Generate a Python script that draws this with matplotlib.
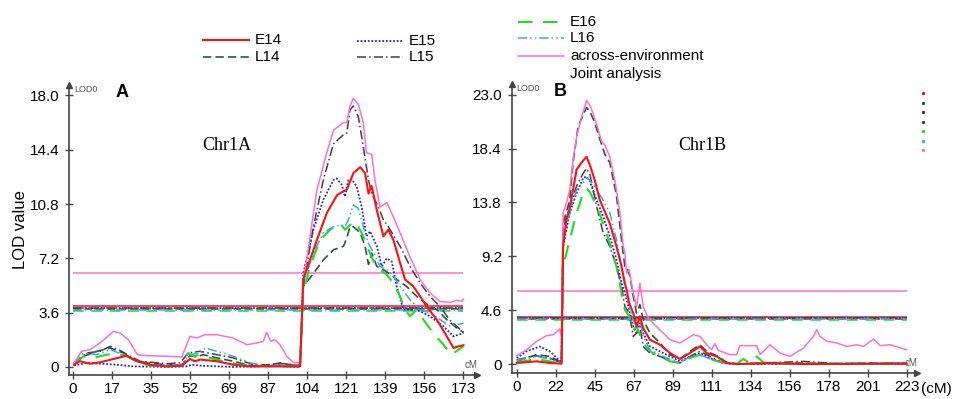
import matplotlib
matplotlib.use("Agg")
import matplotlib.pyplot as plt
from matplotlib.lines import Line2D
import numpy as np

# series names / styles
names = ["E14", "L14", "E15", "L15", "E16", "L16", "across-environment"]
colors = ["#ff1010", "#2a5545", "#2020ee", "#4a3a4a", "#22dd22", "#3aa8dd", "#ff70c8"]
styles = ["-", (0, (5, 2.5)), (0, (1, 1)), (0, (6, 2, 1, 2)), (0, (7, 5)), (0, (6, 2, 1, 2, 1, 2)), "-"]
widths = [1.5, 1.2, 1.3, 1.1, 1.5, 1.1, 1.1]

# Chr1A curves: (cM, LOD)
a_e14 = [(0.4, .15), (3, .38), (7.5, .22), (12, .31), (17.9, .53), (23.8, .75), (28.2, .38), (34.1, .15), (41.5, .04),
         (48.2, .09), (51.8, .53), (54, .38), (56.3, .49), (63.7, .38), (71, .15), (78.4, .04), (100.6, .04),
         (102, 5.8), (108, 8.4), (112.4, 10.2), (117, 11.4), (119.8, 11.65), (121.3, 11.75), (124.2, 12.85),
         (127.2, 13.25), (129.4, 12.85), (130.9, 11.5), (132.3, 12.0), (134.6, 10.4), (137.5, 8.66), (139.7, 9.1),
         (142, 8.4), (144.9, 6.9), (147.1, 5.8), (150.8, 5.34), (153.8, 4.68), (156.7, 4.0), (161.2, 3.14),
         (165.6, 2.03), (168.6, 1.26), (170.8, 1.37), (173, 1.44)]
a_l14 = [(0.4, .22), (4.6, .71), (10.5, 1.04), (16.4, 1.26), (22.3, .93), (26.7, .49), (32.6, .27), (41.5, .15),
         (48.2, .15), (51.8, .75), (54.8, .66), (57.7, .82), (63.7, .6), (71, .38), (78.4, .1), (85.8, .1),
         (91.7, .27), (96.2, .15), (100.6, .1), (102, 5.34), (106.5, 6.2), (110.9, 7.1), (115.4, 7.77),
         (119.8, 8.0), (121.3, 8.55), (122.7, 9.3), (124.2, 9.3), (127.2, 8.9), (129.4, 8.0), (130.9, 6.8),
         (132.3, 7.55), (134.6, 6.67), (137.5, 6.45), (139.7, 6.23), (143.4, 5.8), (147.8, 5.34), (152.3, 4.68),
         (155.2, 4.35), (158.2, 4.0), (161.2, 3.8), (165.6, 3.14), (170, 2.58), (173, 2.3)]
a_e15 = [(0.4, .1), (6, .27), (12, .22), (19.3, .15), (26.7, .04), (41.5, 0), (50.4, .04), (52.6, .15), (56.3, .09),
         (71, 0), (82.9, .04), (85.8, .15), (93.2, .04), (100.6, 0), (102, 6.2), (106.5, 9.1), (110.9, 11.1),
         (115.4, 12.4), (116.8, 12.5), (119, 12.1), (120.5, 11.3), (122, 12.4), (123.5, 12.45), (125.7, 11.95),
         (127.9, 10.6), (130, 8.66), (131.6, 9.0), (134.6, 8.0), (136.8, 6.67), (139, 7.2), (141.2, 7.0),
         (143.4, 5.34), (146.4, 3.8), (149.3, 3.8), (153.8, 3.7), (158.2, 3.36), (164.1, 2.7), (168.6, 2.03),
         (173, 2.25)]
a_l15 = [(0.4, .27), (6, .93), (12, 1.04), (16.4, 1.37), (20.8, 1.1), (25.3, .71), (29.7, .38), (41.5, .22),
         (47.4, .27), (51, .93), (56.3, 1.04), (63.7, .82), (71, .6), (80, .15), (85.8, .15), (93.2, .22),
         (100.6, .1), (102, 5.3), (106.5, 9.3), (110.9, 12.4), (115.4, 14.8), (119.8, 15.4), (121.3, 15.5),
         (122.7, 17.05), (124.2, 17.3), (126.4, 16.6), (128.6, 14.6), (130.9, 12.4), (132.3, 11.5), (135.3, 10.6),
         (137.5, 9.76), (139.7, 9.3), (144.9, 8.0), (149.3, 6.67), (153.8, 5.56), (158.2, 4.68), (162.6, 4.0),
         (167, 3.1), (171.5, 2.5), (173, 2.25)]
a_e16 = [(0.4, .15), (4.6, .71), (9, .6), (14.9, .82), (19.3, .88), (23.8, .71), (28.2, .38), (34.1, .1), (41.5, .04),
         (48.2, .09), (51, .93), (53.3, .71), (56.3, .82), (60.7, .6), (66.6, .38), (74, .15), (85.8, .04),
         (100.6, .04), (102, 4.9), (105, 6.67), (109.4, 8.4), (113.9, 9.1), (118.3, 9.54), (120.5, 9.1),
         (122, 9.3), (124.2, 9.65), (126.4, 9.3), (128.6, 8.66), (130.9, 7.77), (133.2, 7.0), (136, 6.45),
         (139, 6.12), (142, 5.56), (144.9, 4.68), (147.1, 3.8), (149.3, 3.36), (152.3, 3.8), (155.2, 3.14),
         (159.6, 2.25), (164.1, 1.48), (167.8, .82), (170.8, 1.15), (173, 1.37)]
a_l16 = [(0.4, .22), (4.6, .93), (10.5, .82), (16.4, 1.15), (22.3, .82), (26.7, .49), (34.1, .15), (48.2, .15),
         (51.8, .82), (56.3, .93), (58.5, 1.26), (63.7, 1.04), (71, .71), (78.4, .27), (85.8, .09), (100.6, .09),
         (102, 5.56), (106.5, 7.55), (110.9, 8.9), (115.4, 9.3), (118.3, 9.4), (120.5, 9.3), (122, 9.76),
         (124.2, 10.75), (126.4, 10.5), (128.6, 9.3), (130.9, 8.2), (133.2, 7.55), (136, 6.67), (139, 6.45),
         (142, 6.0), (144.9, 5.34), (149.3, 4.46), (153.8, 3.8), (158.2, 3.58), (162.6, 3.14), (167, 2.7),
         (173, 2.9)]
a_joint = [(0.4, .27), (3.8, 1.04), (7.5, 1.15), (12, 1.6), (17.9, 2.36), (20.8, 2.25), (24.5, 1.8), (28.5, .82),
           (32.6, .75), (41.5, .71), (48.2, .66), (51.8, 2.03), (54.8, 1.92), (58.5, 2.14), (63.7, 2.14),
           (71, 1.92), (77, 1.48), (81.4, 1.59), (84.3, 1.7), (85.8, 2.3), (87.6, 1.7), (89.5, 1.81), (91.7, 1.48),
           (94.7, .71), (97.6, .31), (100.6, .27), (102, 5.8), (103.5, 7.1), (108, 11.7), (112.4, 14.2),
           (115.4, 15.7), (119.8, 16.2), (121.3, 16.2), (122.7, 17.3), (124.2, 17.8), (126.4, 17.4), (128.6, 16.2),
           (130, 14.2), (132.3, 14.1), (133.8, 12.4), (136, 10.6), (139, 10.9), (141.2, 10.2), (144.9, 8.9),
           (149.3, 7.3), (153.8, 5.8), (158.2, 4.9), (162.6, 4.35), (167, 4.28), (170, 4.42), (172.2, 4.35),
           (173, 4.5)]

# Chr1B curves
b_e14 = [(0, .09), (11.3, .23), (18.9, .09), (25.6, .03), (26.5, 10.05), (28.4, 12.3), (30.3, 13.3), (34.2, 16.6),
         (37, 17.2), (39.9, 17.7), (41.8, 17.0), (44.6, 15.7), (47.5, 14.0), (50.4, 13.0), (53.2, 12.0), (57, 10.05),
         (59.9, 8.34), (61.8, 6.9), (62.8, 6.35), (64.3, 5.2), (66.6, 4.36), (68.5, 3.2), (70.4, 4.07), (72.3, 3.07),
         (76.1, 2.08), (81.9, 1.65), (87.6, .94), (93.3, .43), (99, .94), (104.7, 1.5), (108.6, .94), (114.3, .65),
         (120, .09), (125.7, 0), (144.8, .09), (163.9, 0), (223, .03)]
b_l14 = [(0, .23), (11.3, .8), (18.9, .65), (25.6, .14), (26.5, 12.0), (30.3, 14.0), (32.2, 17.2), (35.1, 20.3),
         (38, 21.3), (39.9, 21.9), (41.8, 21.6), (44.6, 20.6), (47.5, 19.2), (50.4, 17.9), (53.2, 17.2), (57, 14.4),
         (59.9, 10.6), (61.8, 8.34), (62.8, 8.34), (64.7, 7.5), (66.6, 5.78), (68.5, 4.36), (70.4, 5.07),
         (72.3, 3.79), (76.1, 2.65), (81.9, 1.8), (87.6, .8), (93.3, .43), (99, 1.08), (104.7, 1.65), (108.6, 1.08),
         (114.3, .71), (120, .14), (125.7, .03), (144.8, .03), (163.9, .09), (183, .03), (202, .09), (223, .03)]
b_e15 = [(0, .51), (5.5, 1.08), (13.2, 1.5), (18.9, 1.08), (25.6, .14), (26.5, 10.05), (30.3, 12.9), (34.2, 14.6),
         (38, 15.9), (39.9, 16.0), (41.8, 15.6), (45.6, 14.0), (49.4, 12.6), (53.2, 10.9), (57, 8.9), (59.9, 6.9),
         (61.8, 6.06), (64.3, 4.64), (66.6, 3.22), (68.5, 2.65), (70.4, 3.5), (72.3, 2.65), (76.1, 1.5), (81.9, 1.08),
         (87.6, .65), (93.3, .23), (99, .65), (104.7, .94), (110.5, .51), (118.1, .09), (125.7, 0), (223, .03)]
b_l15 = [(0, .37), (11.3, .71), (18.9, .51), (25.6, .09), (26.5, 11.5), (30.3, 13.5), (34.2, 15.2), (38, 16.3),
         (39.9, 16.7), (41.8, 16.2), (45.6, 13.5), (49.4, 11.2), (53.2, 10.05), (57, 8.34), (59.9, 6.63),
         (61.8, 4.92), (64.3, 4.36), (66.6, 2.36), (68.5, 2.65), (70.4, 3.22), (72.3, 1.5), (76.1, .94), (81.9, .65),
         (87.6, .28), (93.3, .09), (99, .65), (104.7, 1.08), (110.5, .65), (118.1, .09), (125.7, 0), (163.9, .23),
         (183, .03), (223, .09)]
b_e16 = [(0, .14), (11.3, .43), (18.9, .23), (25.6, .03), (26.5, 8.34), (30.3, 10.6), (34.2, 12.9), (38, 14.6),
         (39.9, 15.0), (41.8, 14.7), (45.6, 13.5), (49.4, 12.0), (53.2, 10.3), (57, 8.34), (59.9, 6.06), (61.8, 4.64),
         (64.3, 4.07), (66.6, 2.93), (68.5, 3.22), (72.3, 1.8), (76.1, 1.08), (81.9, .65), (87.6, .23), (93.3, .09),
         (99, .51), (104.7, .8), (110.5, .43), (118.1, .09), (125.7, 0), (129.5, .43), (133.4, .09), (137.2, .65),
         (141, .14), (148.6, .03), (223, .03)]
b_l16 = [(0, .31), (11.3, .65), (18.9, .43), (25.6, .09), (26.5, 10.6), (30.3, 12.9), (34.2, 14.9), (38, 15.5),
         (39.9, 15.9), (41.8, 15.7), (45.6, 14.9), (49.4, 14.0), (53.2, 12.9), (57, 10.6), (59.9, 8.34), (61.8, 6.63),
         (64.3, 4.92), (66.6, 3.79), (68.5, 3.22), (70.4, 3.79), (72.3, 2.36), (76.1, 1.22), (81.9, .8), (87.6, .37),
         (93.3, .14), (99, .6), (104.7, .8), (110.5, .43), (118.1, .09), (125.7, 0), (223, .09)]
b_joint = [(0, .71), (5.5, 1.22), (11.3, 1.94), (17, 2.42), (20.8, 2.5), (24.6, 2.99), (25.6, 2.36), (26.5, 12.9),
           (28.4, 13.75), (30.3, 14.9), (32.2, 17.45), (34.2, 19.4), (37, 21.1), (38.9, 22.0), (39.9, 22.5),
           (41.8, 22.1), (43.7, 21.4), (46.6, 20.0), (48.5, 19.0), (50.4, 18.7), (53.2, 17.7), (56.1, 15.7),
           (59, 12.9), (60.9, 10.05), (61.8, 9.5), (62.8, 7.77), (64.3, 8.05), (66.2, 6.35), (68.5, 4.9), (70.4, 6.9),
           (72.3, 4.9), (75.2, 3.93), (79.9, 3.2), (87.6, 2.08), (93.3, 1.8), (101, 2.5), (104.7, 2.36), (108.6, 1.65),
           (111.4, 1.22), (113.3, 1.74), (115.2, 1.17), (121.9, .8), (125.7, .8), (127.6, 1.57), (137.2, 1.57),
           (139.1, .8), (144.8, 1.65), (150.5, .94), (156.3, .65), (163.9, 1.37), (169.6, 2.36), (171.5, 2.93),
           (173.4, 2.36), (177.3, 1.94), (183, 1.8), (188.7, 1.5), (194.4, 1.65), (198.2, 1.5), (204, 2.13),
           (207.8, 1.57), (213.5, 1.65), (219.2, 1.37), (223, 1.22)]

# LOD thresholds per series
a_thresh = [4.07, 3.85, 3.92, 3.88, 3.72, 3.8, 6.24]
b_thresh = [4.05, 3.88, 3.92, 3.9, 3.74, 3.82, 6.27]

a_ymax, b_ymax = 18.0, 23.0
a_len, b_len = 173, 223
a_ticklabels = ["0", "17", "35", "52", "69", "87", "104", "121", "139", "156", "173"]
b_ticklabels = ["0", "22", "45", "67", "89", "111", "134", "156", "178", "201", "223"]

plt.rcParams["font.family"] = ["Liberation Sans", "DejaVu Sans"]
fig = plt.figure(figsize=(9.6, 3.99), dpi=100)
axA = fig.add_axes([0.0719, 0.0602, 0.425, 0.727])
axB = fig.add_axes([0.533, 0.065, 0.422, 0.724])

panels = [
    (axA, [a_e14, a_l14, a_e15, a_l15, a_e16, a_l16, a_joint], a_thresh, a_len, a_ymax, a_ticklabels,
     (-1.8, 179), (-0.53, 18.7), "A"),
    (axB, [b_e14, b_l14, b_e15, b_l15, b_e16, b_l16, b_joint], b_thresh, b_len, b_ymax, b_ticklabels,
     (-2.9, 228.7), (-0.77, 23.9), "B"),
]

for ax, curves, thr, xlen, ymax, tlabels, xl, yl, letter in panels:
    for i, c in enumerate(curves):
        xs, ys = zip(*c)
        ax.hlines(thr[i], 0, xlen, color=colors[i], linestyles=styles[i], lw=1.1, zorder=2)
        ax.plot(xs, ys, color=colors[i], ls=styles[i], lw=widths[i], zorder=3 + (i == 0))
    ax.set_xlim(*xl)
    ax.set_ylim(*yl)
    ax.set_xticks(np.linspace(0, xlen, 11))
    ax.set_xticklabels(tlabels)
    ax.set_yticks(np.linspace(0, ymax, 6))
    ax.set_yticklabels(["0"] + ["%.1f" % v for v in np.linspace(0, ymax, 6)[1:]])
    for s in ["top", "right"]:
        ax.spines[s].set_visible(False)
    for s in ["left", "bottom"]:
        ax.spines[s].set_color("#444444")
        ax.spines[s].set_linewidth(1.2)
    ax.tick_params(direction="inout", length=6, width=1, color="#444444", labelsize=11, pad=4)
    ax.tick_params(axis="x", pad=2)
    ax.plot(1, 0, ">", color="#444444", ms=5, transform=ax.transAxes, clip_on=False)
    ax.plot(0, 1, "^", color="#444444", ms=4, transform=ax.transAxes, clip_on=False)
    ax.text(0.012, 0.985, "LOD0", transform=ax.transAxes, fontsize=6.5, color="#555555", va="center")
    ax.text(0.985, 0.025, "cM", transform=ax.transAxes, fontsize=7, color="#555555", ha="center")
    ax.text(0.115 if letter == "A" else 0.105, 0.975, letter, transform=ax.transAxes, fontsize=13,
            fontweight="bold", va="center")
    ax.set_facecolor("none")

axA.text(68, 14.7, "Chr1A", family="Liberation Serif", fontsize=13, ha="center", va="center")
axB.text(106, 18.7, "Chr1B", family="Liberation Serif", fontsize=13, ha="center", va="center")
axA.set_ylabel("LOD value", fontsize=12, labelpad=1)
fig.text(921 / 960, 1 - 389 / 399, "(cM)", fontsize=11, va="center")

# legend drawn in figure pixels
W, H = 960.0, 399.0
leg_pos = [(203, 40), (203, 57), (357, 41), (357, 57), (518, 22), (518, 38), (518, 56)]
for i, (px, py) in enumerate(leg_pos):
    ln = Line2D([px / W, (px + 46) / W], [1 - py / H, 1 - py / H], color=colors[i], ls=styles[i],
                lw=widths[i], transform=fig.transFigure)
    fig.add_artist(ln)
    fig.text((px + 52) / W, 1 - py / H, names[i], fontsize=11, va="center")
fig.text(570 / W, 1 - 74 / H, "Joint analysis", fontsize=11, va="center")

# tiny colour key dots at right
for i in range(7):
    fig.add_artist(Line2D([923 / W], [1 - (93 + 9.5 * i) / H], marker="s", ms=1.2, color=colors[i],
                          ls="none", transform=fig.transFigure))

fig.savefig("out.png", dpi=100)
